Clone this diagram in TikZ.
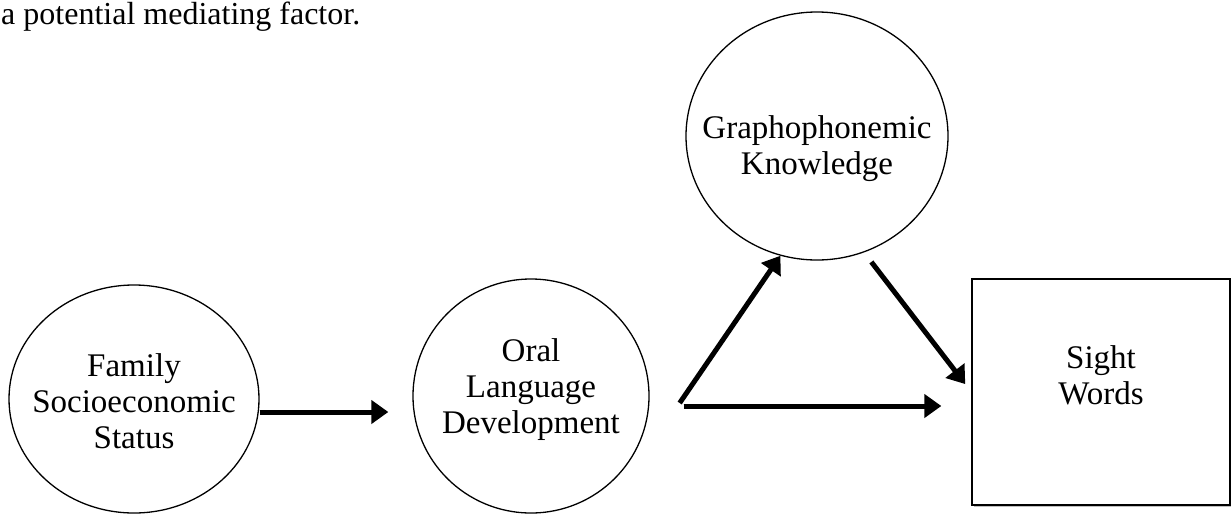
\documentclass[tikz,border=0pt]{standalone}
\usepackage{fontspec}
\setmainfont{Liberation Serif}
\usetikzlibrary{shapes.geometric,arrows.meta,shadows}

\newcommand{\liftlines}[2]{\raisebox{#1}[0pt][0pt]{\makebox[0pt]{\begin{tabular}{@{}c@{}}#2\end{tabular}}}}

\tikzstyle{construct}=[draw,ellipse,line width=1.3pt,inner sep=0pt,font=\fontsize{33}{36}\selectfont]
\tikzstyle{outcome}=[draw,rectangle,fill=white,line width=1.3pt,inner sep=0pt,font=\fontsize{33}{36}\selectfont,
  drop shadow={shadow xshift=1.5pt,shadow yshift=-1.5pt,opacity=0.5}]
\tikzstyle{link}=[line width=5pt,-{Triangle[length=17pt,width=23pt]}]

\begin{document}
\begin{tikzpicture}[x=1pt,y=-1pt]
  \useasboundingbox (0,0) rectangle (1231,515);

  \node (intro)[anchor=base west,inner sep=0pt,font=\fontsize{32}{36}\selectfont] at (1,24) {a potential mediating factor.};

  \node (fam)[construct,minimum width=250pt,minimum height=228pt] at (134,399) {\liftlines{-13pt}{Family\\Socioeconomic\\Status}};
  \node (oral)[construct,minimum width=236pt,minimum height=234pt] at (531,396) {\liftlines{-1pt}{Oral\\Language\\Development}};
  \node (grapho)[construct,minimum width=262pt,minimum height=248pt] at (817,136) {\liftlines{-20pt}{Graphophonemic\\Knowledge}};
  \node (sight)[outcome,minimum width=258pt,minimum height=226pt] at (1101,392) {\liftlines{6pt}{Sight\\Words}};

    \draw[link,shorten >=24pt] ([yshift=-13pt]fam.east) -- ([yshift=-13pt]fam.east -| oral.west);
    \draw[link] ([shift={(30pt,-7pt)}]oral.east) -- (grapho.-107);
    \draw[link] ([shift={(34pt,-10pt)}]oral.east) -- ([shift={(-30pt,-14pt)}]sight.west);
    \draw[link,shorten <=12pt,shorten >=10pt] (grapho.-68) -- (sight.west);
\end{tikzpicture}
\end{document}
